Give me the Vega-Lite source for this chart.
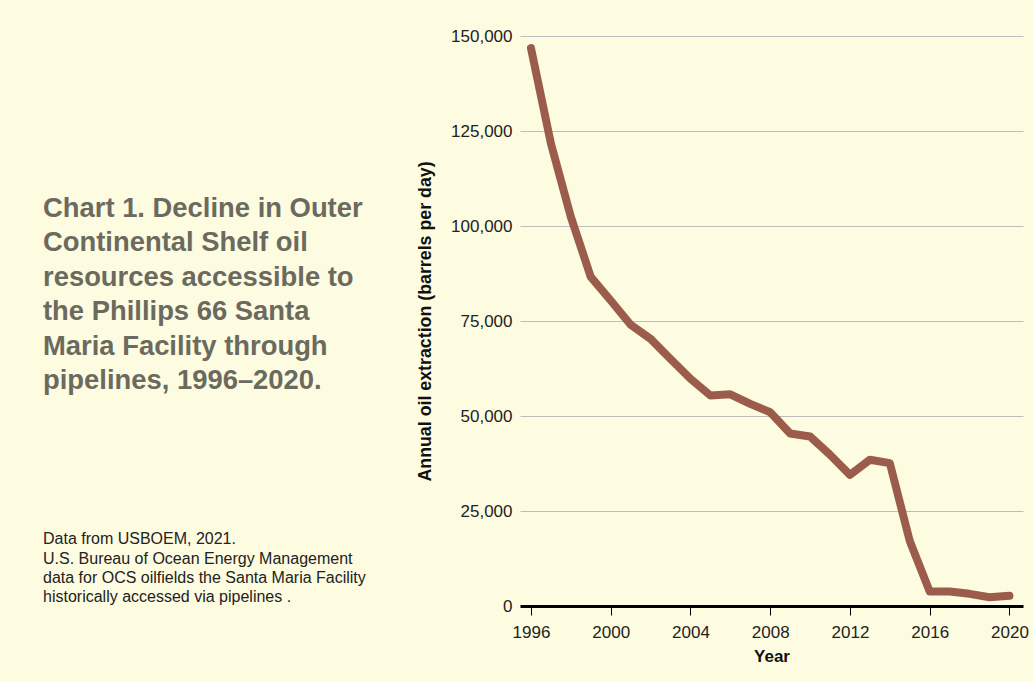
{
  "$schema": "https://vega.github.io/schema/vega-lite/v6.json",
  "width": 503,
  "height": 570,
  "autosize": {"type": "none"},
  "padding": {"left": 520, "top": 36, "right": 10, "bottom": 75},
  "background": "#fdfce0",
  "title": {
    "text": ["Chart 1. Decline in Outer", "Continental Shelf oil", "resources accessible to", "the Phillips 66 Santa", "Maria Facility through", "pipelines, 1996–2020."],
    "subtitle": ["Data from USBOEM, 2021.", "U.S. Bureau of Ocean Energy Management", "data for OCS oilfields the Santa Maria Facility", "historically accessed via pipelines ."],
    "anchor": "start",
    "frame": "group",
    "orient": "top",
    "align": "left",
    "dx": -477,
    "dy": 582,
    "offset": 4,
    "font": "Liberation Sans",
    "fontSize": 27.4,
    "fontWeight": "bold",
    "lineHeight": 34.5,
    "color": "#6b6a5f",
    "subtitleFont": "Liberation Sans",
    "subtitleFontSize": 16,
    "subtitleFontWeight": "normal",
    "subtitleLineHeight": 19.2,
    "subtitleColor": "#222222",
    "subtitlePadding": 137
  },
  "data": {
    "values": [
      {"year": 1996, "barrels": 146800},
      {"year": 1997, "barrels": 121700},
      {"year": 1998, "barrels": 102400},
      {"year": 1999, "barrels": 86600},
      {"year": 2000, "barrels": 80400},
      {"year": 2001, "barrels": 74000},
      {"year": 2002, "barrels": 70300},
      {"year": 2003, "barrels": 65000},
      {"year": 2004, "barrels": 59800},
      {"year": 2005, "barrels": 55400},
      {"year": 2006, "barrels": 55700},
      {"year": 2007, "barrels": 53200},
      {"year": 2008, "barrels": 51000},
      {"year": 2009, "barrels": 45400},
      {"year": 2010, "barrels": 44600},
      {"year": 2011, "barrels": 39800},
      {"year": 2012, "barrels": 34500},
      {"year": 2013, "barrels": 38500},
      {"year": 2014, "barrels": 37600},
      {"year": 2015, "barrels": 17100},
      {"year": 2016, "barrels": 3800},
      {"year": 2017, "barrels": 3800},
      {"year": 2018, "barrels": 3200},
      {"year": 2019, "barrels": 2300},
      {"year": 2020, "barrels": 2700}
    ]
  },
  "mark": {"type": "line", "color": "#9b5c4c", "strokeWidth": 8, "strokeCap": "round", "strokeJoin": "round"},
  "encoding": {
    "x": {
      "field": "year",
      "type": "quantitative",
      "scale": {"domain": [1995.45, 2020.68], "nice": false, "zero": false},
      "axis": {
        "title": "Year",
        "values": [1996, 2000, 2004, 2008, 2012, 2016, 2020],
        "format": "d",
        "grid": false,
        "domainColor": "#000000",
        "domainWidth": 3,
        "tickColor": "#000000",
        "tickWidth": 1,
        "tickSize": 9,
        "labelPadding": 9,
        "labelFont": "Liberation Sans",
        "labelFontSize": 17,
        "labelColor": "#222222",
        "labelFlush": false,
        "titleFont": "Liberation Sans",
        "titleFontSize": 17,
        "titleFontWeight": "bold",
        "titleColor": "#111111",
        "titlePadding": 8,
        "zindex": 2
      }
    },
    "y": {
      "field": "barrels",
      "type": "quantitative",
      "scale": {"domain": [0, 150000], "nice": false},
      "axis": {
        "title": "Annual oil extraction (barrels per day)",
        "values": [0, 25000, 50000, 75000, 100000, 125000, 150000],
        "format": ",d",
        "domain": false,
        "ticks": false,
        "grid": true,
        "gridColor": "#bdbdbd",
        "gridWidth": 1,
        "labelPadding": 8,
        "labelFont": "Liberation Sans",
        "labelFontSize": 17,
        "labelColor": "#222222",
        "titleFont": "Liberation Sans",
        "titleFontSize": 17.8,
        "titleFontWeight": "bold",
        "titleColor": "#111111",
        "titlePadding": 16
      }
    }
  },
  "config": {"view": {"stroke": null}}
}
